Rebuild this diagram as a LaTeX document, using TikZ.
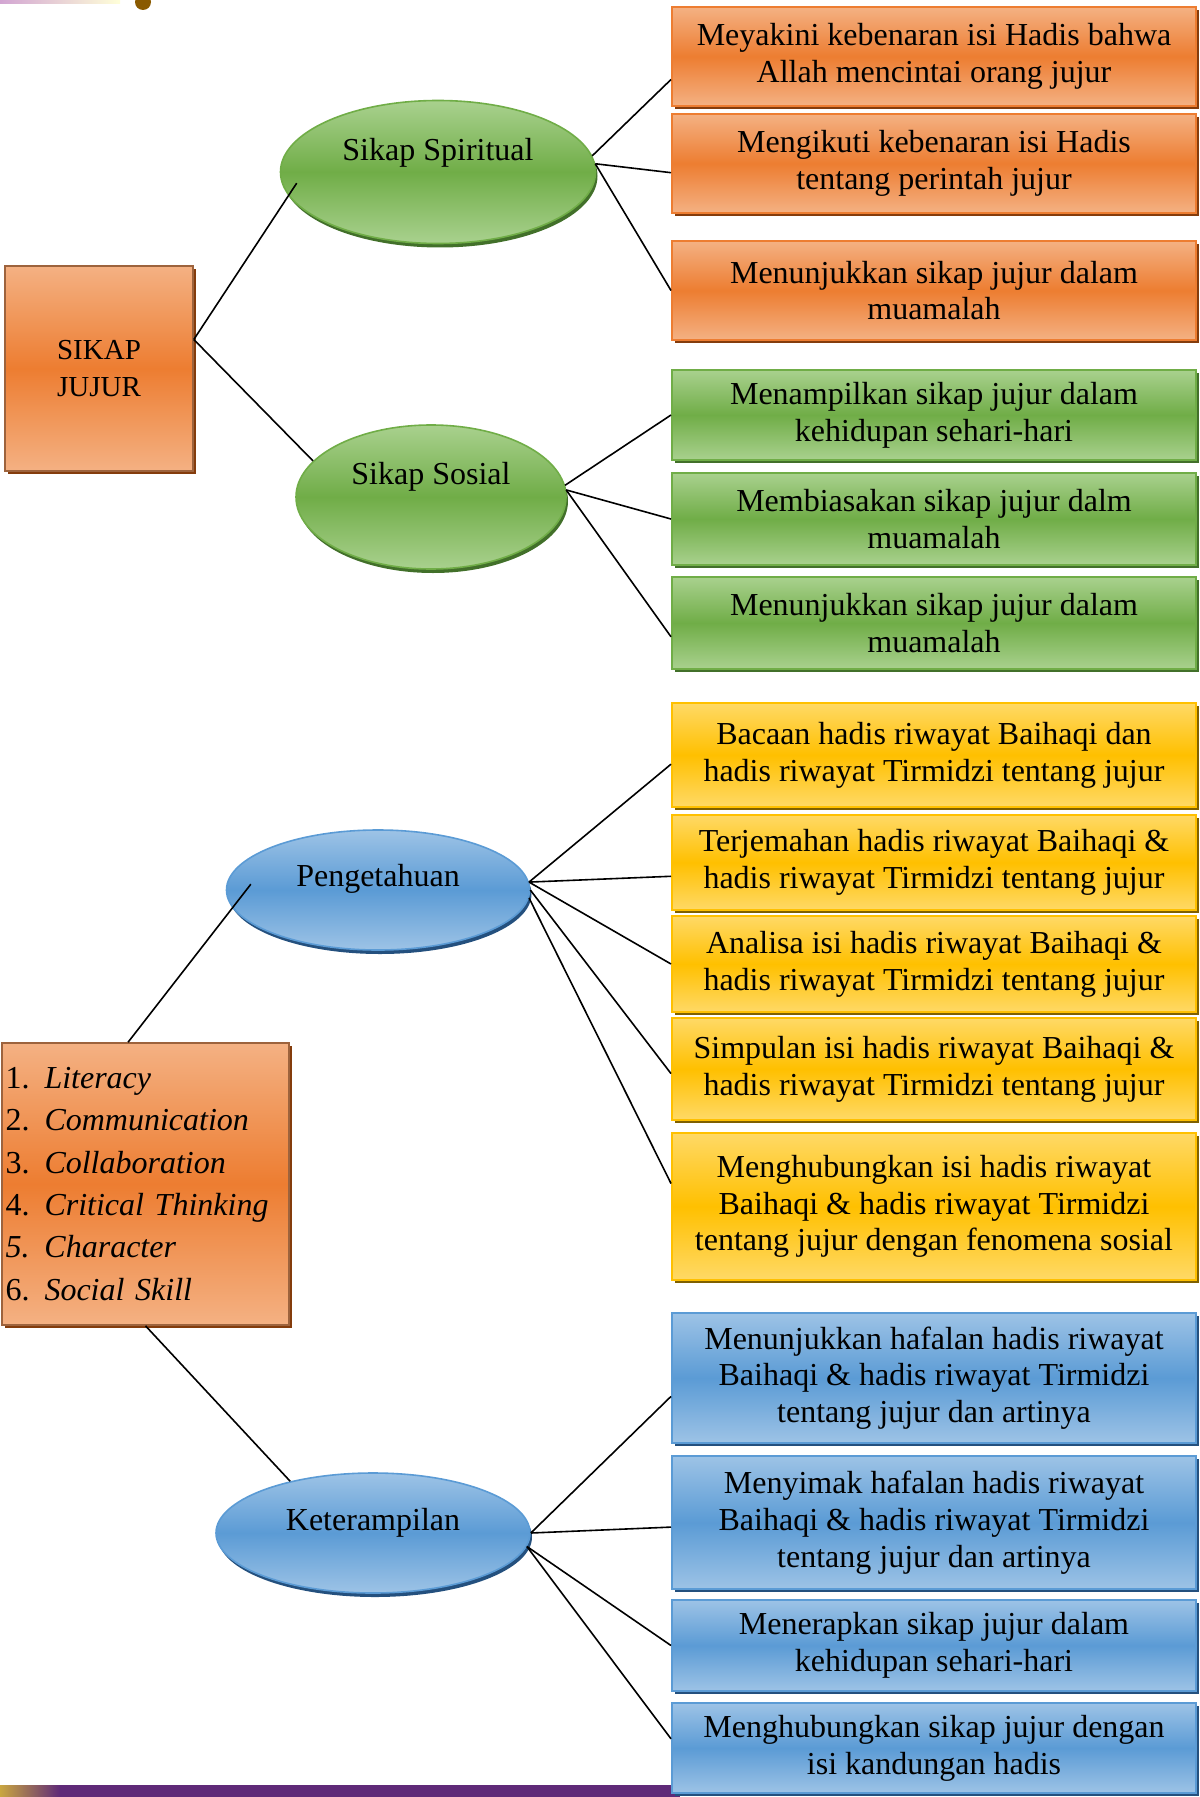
\documentclass[tikz,border=0pt]{standalone}
\usepackage{fontspec}
\setmainfont{Liberation Serif}
\usetikzlibrary{positioning,shapes.geometric,shadows}

\definecolor{orangelight}{HTML}{F4B183}
\definecolor{orangedark}{HTML}{ED7D31}
\definecolor{orangeshadow}{HTML}{843C0C}
\definecolor{greenlight}{HTML}{A9D18E}
\definecolor{greendark}{HTML}{70AD47}
\definecolor{greenshadow}{HTML}{42702A}
\definecolor{yellowlight}{HTML}{FFD966}
\definecolor{yellowdark}{HTML}{FFC000}
\definecolor{yellowshadow}{HTML}{7F6000}
\definecolor{bluelight}{HTML}{9DC3E6}
\definecolor{bluedark}{HTML}{5B9BD5}
\definecolor{blueshadow}{HTML}{24507E}
\definecolor{bandpurple}{HTML}{5F2A78}
\definecolor{bandgold}{HTML}{C9A640}
\definecolor{ornament}{HTML}{8A5A00}

\newcommand{\skillitem}[2]{\makebox[19.5pt][l]{#1}\textit{#2}}

\begin{document}
\begin{tikzpicture}[x=0.5pt,y=-0.5pt,
                    every node/.style={font=\fontsize{16}{18.4}\selectfont},
                    line/.style={draw,line width=0.8pt},
                    main box/.style={rectangle,draw=orangeshadow!80,line width=0.8pt,
                      top color=orangelight,bottom color=orangelight,middle color=orangedark,
                      general shadow={fill=orangeshadow,shadow xshift=1.5pt,shadow yshift=-1.5pt}},
                    leaf/.style={rectangle,draw=#1dark,line width=1pt,minimum width=262pt,
                      align=center,inner sep=2pt,
                      top color=#1light,bottom color=#1light,middle color=#1dark,
                      general shadow={fill=#1shadow,shadow xshift=1.5pt,shadow yshift=-1.5pt}},
                    bubble/.style={ellipse,draw=#1dark,line width=0.8pt,
                      top color=#1light,bottom color=#1light,middle color=#1dark,
                      general shadow={fill=#1shadow,shadow xshift=1pt,shadow yshift=-2pt},
                      text height=12pt}]
  \useasboundingbox (0,0) rectangle (1199,1797);

  % page trim
  \shade[left color=violet!35,right color=yellow!15] (0,0) rectangle (120,4);
  \fill[ornament] (143,2) circle (4pt);
  \fill[bandpurple] (0,1785) rectangle (680,1797);
  \shade[left color=bandgold,right color=bandpurple] (0,1785) rectangle (60,1797);

  % left column
  \node[main box,minimum width=94pt,minimum height=102.5pt,align=center,
        font=\fontsize{14.5}{18.4}\selectfont] (jujur) at (99,368.5) {SIKAP\\JUJUR};
  \node[main box,minimum width=143.5pt,minimum height=141pt,text width=140pt,align=left,
        inner xsep=1pt,font=\fontsize{16}{21.2}\selectfont] (skill) at (145.5,1184)
    {\skillitem{1.}{Literacy}\\ \skillitem{2.}{Communication}\\ \skillitem{3.}{Collaboration}\\
     \skillitem{4.}{Critical Thinking}\\ \skillitem{\textit{5.}}{Character}\\ \skillitem{6.}{Social Skill}};

  % middle column
  \node[bubble=green,minimum width=157.5pt,minimum height=71.5pt,text depth=23pt] (spiritual) at (438,172) {Sikap Spiritual};
  \node[bubble=green,minimum width=135pt,minimum height=72pt,text depth=25pt] (sosial) at (431,497) {Sikap Sosial};
  \node[bubble=blue,minimum width=151.5pt,minimum height=60pt,text depth=16pt] (peng) at (378,890) {Pengetahuan};
  \node[bubble=blue,minimum width=157pt,minimum height=60pt,text depth=15pt] (ket) at (373,1533) {Keterampilan};

  % right column
  \node[leaf=orange,minimum height=49.5pt] (sp1) at (934,56.5) {Meyakini kebenaran isi Hadis bahwa\\Allah mencintai orang jujur};
  \node[leaf=orange,minimum height=49.5pt,below=3pt of sp1] (sp2) {Mengikuti kebenaran isi Hadis\\tentang perintah jujur};
  \node[leaf=orange,minimum height=49.5pt,below=13pt of sp2] (sp3) {Menunjukkan sikap jujur dalam\\muamalah};

  \node[leaf=green,minimum height=45pt] (so1) at (934,415) {Menampilkan sikap jujur dalam\\kehidupan sehari-hari};
  \node[leaf=green,minimum height=46pt,below=5.5pt of so1] (so2) {Membiasakan sikap jujur dalm\\muamalah};
  \node[leaf=green,minimum height=46pt,below=5pt of so2] (so3) {Menunjukkan sikap jujur dalam\\muamalah};

  \node[leaf=yellow,minimum height=52pt] (pg1) at (934,755) {Bacaan hadis riwayat Baihaqi dan\\hadis riwayat Tirmidzi tentang jujur};
  \node[leaf=yellow,minimum height=47.5pt,below=3pt of pg1] (pg2) {Terjemahan hadis riwayat Baihaqi \&\\hadis riwayat Tirmidzi tentang jujur};
  \node[leaf=yellow,minimum height=48pt,below=2pt of pg2] (pg3) {Analisa isi hadis riwayat Baihaqi \&\\hadis riwayat Tirmidzi tentang jujur};
  \node[leaf=yellow,minimum height=51pt,below=2pt of pg3] (pg4) {Simpulan isi hadis riwayat Baihaqi \&\\hadis riwayat Tirmidzi tentang jujur};
  \node[leaf=yellow,minimum height=73.5pt,below=5.5pt of pg4] (pg5) {Menghubungkan isi hadis riwayat\\Baihaqi \& hadis riwayat Tirmidzi\\tentang jujur dengan fenomena sosial};

  \node[leaf=blue,minimum height=65pt] (kt1) at (934,1378) {Menunjukkan hafalan hadis riwayat\\Baihaqi \& hadis riwayat Tirmidzi\\tentang jujur dan artinya};
  \node[leaf=blue,minimum height=66.5pt,below=5.5pt of kt1] (kt2) {Menyimak hafalan hadis riwayat\\Baihaqi \& hadis riwayat Tirmidzi\\tentang jujur dan artinya};
  \node[leaf=blue,minimum height=45.5pt,below=4.5pt of kt2] (kt3) {Menerapkan sikap jujur dalam\\kehidupan sehari-hari};
  \node[leaf=blue,minimum height=45pt,below=5pt of kt3] (kt4) {Menghubungkan sikap jujur dengan\\isi kandungan hadis};

  % connectors
  \path[line]
    (jujur.17) edge[shorten >=-7.5pt] (spiritual.189)
               edge (sosial.163)
    (spiritual.6) edge (sp1.185)
    (spiritual.3) edge (sp2.182)
                  edge (sp3.west)
    (sosial.5) edge (so1.west)
    (sosial.3) edge (so2.west)
               edge (so3.183)
    (skill.97) edge[shorten >=-15pt] (peng.187)
    (skill.south) edge (ket.148)
    (peng.3) edge (pg1.182)
             edge (pg2.183)
             edge (pg3.west)
    (peng.0) edge (pg4.181)
    (peng.-3) edge (pg5.175)
    (ket.east) edge (kt1.184)
               edge (kt2.181)
    (ket.-5) edge (kt3.west)
             edge (kt4.178);
\end{tikzpicture}
\end{document}
